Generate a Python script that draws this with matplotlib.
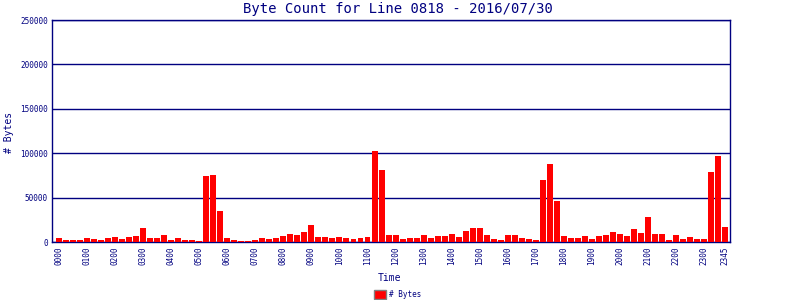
import matplotlib
matplotlib.use("Agg")
import matplotlib.pyplot as plt
import numpy as np
from matplotlib.patches import Rectangle

times = [f"{h:02d}{m:02d}" for h in range(24) for m in (0, 15, 30, 45)]
byte_counts = [
    4500, 2250, 2250, 2250, 4500, 3400, 2250, 4500,
    5600, 3400, 5600, 6800, 15800, 4500, 4500, 7900,
    2250, 4500, 2250, 2250, 1100, 74400, 75600, 35000,
    4500, 2250, 1100, 1100, 2250, 4500, 3400, 4500,
    6800, 9000, 7900, 11300, 19200, 5600, 5600, 4500,
    5600, 4500, 3400, 4500, 5600, 102600, 81200, 7900,
    7900, 3400, 4500, 4500, 7900, 4500, 6800, 6800,
    9000, 5600, 12400, 15800, 15800, 7900, 3400, 2250,
    7900, 7900, 4500, 3400, 2250, 69900, 88000, 46200,
    6800, 4500, 4500, 6800, 3400, 6800, 7900, 11300,
    9000, 6800, 14700, 10200, 28200, 9000, 9000, 2250,
    7900, 3400, 5600, 3400, 3400, 79000, 97000, 16900,
]
tick_labels = [f"{h:02d}00" for h in range(24)] + ["2345"]
y_ticks = [0, 50000, 100000, 150000, 200000, 250000]

navy = "#000080"
mono = "DejaVu Sans Mono"

fig = plt.figure(figsize=(8, 3), dpi=100)
ax = fig.add_axes([0.065, 0.193, 0.8475, 0.74])
x = np.arange(len(times))
ax.bar(x, byte_counts, width=0.85, color="#ff0000", zorder=3)
ax.set_xlim(-1, 95.7)
ax.set_ylim(0, 250000)
ax.set_yticks(y_ticks)
ax.set_yticklabels([str(v) for v in y_ticks], fontsize=5.5, family=mono, color=navy)
tick_pos = [times.index(t) for t in tick_labels]
ax.set_xticks(tick_pos)
ax.set_xticklabels(tick_labels, rotation=90, fontsize=5.5, family=mono, color=navy)
ax.tick_params(length=0, pad=3)
ax.grid(axis="y", color=navy, linewidth=1, zorder=1)
for s in ax.spines.values():
    s.set_color(navy)
    s.set_linewidth(1)

fig.text(0.4975, 0.97, "Byte Count for Line 0818 - 2016/07/30", ha="center", va="center",
         fontsize=10, family=mono, color=navy)
fig.text(0.0115, 0.56, "# Bytes", rotation=90, ha="center", va="center",
         fontsize=7, family=mono, color=navy)
fig.text(0.487, 0.073, "Time", ha="center", va="center", fontsize=7, family=mono, color=navy)
fig.patches.append(Rectangle((0.4675, 0.0033), 0.015, 0.03, transform=fig.transFigure,
                             facecolor="#ff0000", edgecolor="#808080", linewidth=1))
fig.text(0.486, 0.0183, "# Bytes", ha="left", va="center", fontsize=5.5, family=mono, color=navy)

fig.savefig("out.png", dpi=100)
